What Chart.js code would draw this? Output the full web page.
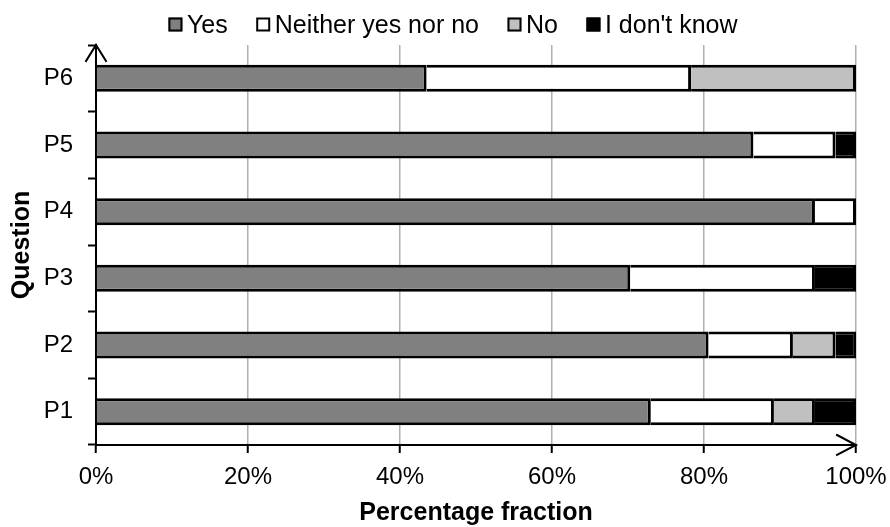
<!DOCTYPE html>
<html>
<head>
<meta charset="utf-8">
<script src="https://cdn.jsdelivr.net/npm/chart.js@4.4.1/dist/chart.umd.min.js"></script>
<style>
  body { margin: 0; background: #fff; }
  #boite { width: 890px; height: 527px; }
</style>
</head>
<body>
<div id="boite"><canvas id="graphique"></canvas></div>
<script>
// ==== données ====
const categories = ['P1', 'P2', 'P3', 'P4', 'P5', 'P6'];
const seriesNames = ['Yes', 'Neither yes nor no', 'No', "I don't know"];
const yesValues      = [73.0, 80.6, 70.3, 94.6, 86.5, 43.5];
const neitherValues  = [16.2, 11.1, 24.3,  5.4, 10.8, 34.8];
const noValues       = [ 5.4,  5.6,  0.0,  0.0,  0.0, 21.7];
const dontKnowValues = [ 5.4,  2.8,  5.4,  0.0,  2.7,  0.0];
const xTickStep = 20;

const couleurs = ['#808080', '#ffffff', '#c0c0c0', '#000000'];
const police = '"Liberation Sans", Arial, Helvetica, sans-serif';

Chart.defaults.font.family = police;
Chart.defaults.color = '#000';

const serie = (i, valeurs) => ({
  label: seriesNames[i],
  data: valeurs,
  backgroundColor: couleurs[i],
  borderColor: '#000',
  borderWidth: 3,          // bord gauche sauté (borderSkipped 'start' par défaut)
  categoryPercentage: 1,
  barPercentage: 0.405
});

// flèches au bout des axes
const Fleches = {
  id: 'Fleches',
  afterDraw(chart) {
    const {ctx, chartArea: {top, bottom, left, right}} = chart;
    ctx.save();
    ctx.strokeStyle = '#000';
    ctx.lineWidth = 2;
    ctx.lineCap = 'square';
    ctx.beginPath();
    ctx.moveTo(left - 10, top + 16);
    ctx.lineTo(left, top);
    ctx.lineTo(left + 10, top + 16);
    ctx.moveTo(right - 19, bottom - 10);
    ctx.lineTo(right, bottom);
    ctx.lineTo(right - 19, bottom + 10);
    ctx.stroke();
    ctx.restore();
  }
};

// légende dessinée à la main (écarts plus serrés que la légende Chart.js)
const Legende = {
  id: 'Legende',
  afterDraw(chart) {
    const {ctx} = chart;
    const cote = 14, ecartTexte = 4.5, ecartItem = 28.5, centre = 453, yBoite = 17.5, yTexte = 33;
    ctx.save();
    ctx.font = '25px ' + police;
    ctx.textBaseline = 'alphabetic';
    const items = chart.data.datasets.map(d => ({txt: d.label, fond: d.backgroundColor, w: ctx.measureText(d.label).width}));
    let total = 0;
    items.forEach((it, i) => { total += cote + ecartTexte + it.w + (i < items.length - 1 ? ecartItem : 0); });
    let x = centre - total / 2;
    items.forEach(it => {
      ctx.fillStyle = it.fond;
      ctx.fillRect(x, yBoite, cote, cote);
      ctx.strokeStyle = '#000';
      ctx.lineWidth = 2;
      ctx.strokeRect(x + 1, yBoite + 1, cote - 2, cote - 2);
      ctx.fillStyle = '#000';
      ctx.fillText(it.txt, x + cote + ecartTexte, yTexte);
      x += cote + ecartTexte + it.w + ecartItem;
    });
    ctx.restore();
  }
};

const config = {
  type: 'bar',
  data: {
    labels: categories,
    datasets: [
      serie(0, yesValues),
      serie(1, neitherValues),
      serie(2, noValues),
      serie(3, dontKnowValues)
    ]
  },
  options: {
    responsive: true,
    maintainAspectRatio: false,
    animation: false,
    indexAxis: 'y',
    layout: { padding: { top: 45, right: 34, bottom: 0, left: 0 } },
    scales: {
      x: {
        stacked: true,
        min: 0,
        max: 100,
        afterFit(scale) {
          scale.height = 82;
          scale.paddingLeft = 0;   // le débordement de "100%" tient dans la marge
          scale.paddingRight = 0;
        },
        ticks: {
          stepSize: xTickStep,
          padding: 10,
          font: { size: 24 },
          callback: v => v + '%'
        },
        grid: {
          color: '#b0b0b0',
          lineWidth: 1.5,
          tickColor: '#000',
          tickWidth: 2,
          tickLength: 8
        },
        border: { color: '#000', width: 2 },
        title: {
          display: true,
          text: 'Percentage fraction',
          font: { size: 25, weight: 'bold' },
          padding: { top: 0, bottom: -1 }
        }
      },
      y: {
        stacked: true,
        reverse: true,
        afterFit(scale) { scale.width = 96; },
        ticks: { padding: 15, font: { size: 24 } },
        grid: {
          drawOnChartArea: false,
          offset: true,
          tickColor: '#000',
          tickWidth: 2,
          tickLength: 8
        },
        border: { color: '#000', width: 2 },
        title: {
          display: true,
          text: 'Question',
          font: { size: 25, weight: 'bold' },
          padding: { top: 7, bottom: 0 }
        }
      }
    },
    plugins: {
      legend: { display: false },
      tooltip: { enabled: false }
    }
  },
  plugins: [Fleches, Legende]
};

const monGraphique = new Chart(document.getElementById('graphique'), config);
</script>
</body>
</html>
